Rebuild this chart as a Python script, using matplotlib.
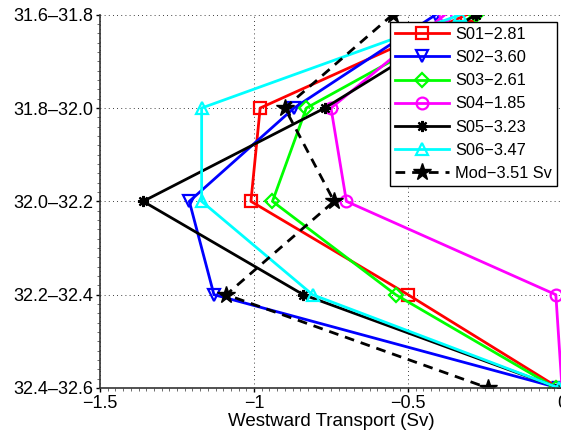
"""
Westward transport per density class: station profiles vs model.
"""
import matplotlib
matplotlib.use("Agg")
import matplotlib.pyplot as plt
from matplotlib.ticker import MultipleLocator

plt.rcParams["font.family"] = ["Liberation Sans", "DejaVu Sans"]
plt.rcParams["font.size"] = 13

# density classes, top to bottom
classes = ["31.6\u201331.8", "31.8\u201332.0", "32.0\u201332.2",
           "32.2\u201332.4", "32.4\u201332.6"]

s01 = [-0.31, -0.98, -1.01, -0.50, -0.01]
s02 = [-0.41, -0.87, -1.21, -1.13, -0.01]
s03 = [-0.28, -0.83, -0.94, -0.54, -0.02]
s04 = [-0.38, -0.75, -0.70, -0.02, 0.00]
s05 = [-0.28, -0.77, -1.36, -0.84, -0.01]
s06 = [-0.33, -1.17, -1.17, -0.81, -0.01]
mod = [-0.55, -0.90, -0.74, -1.09, -0.24]

labels = ["S01\u22122.81", "S02\u22123.60", "S03\u22122.61", "S04\u22121.85",
          "S05\u22123.23", "S06\u22123.47", "Mod\u22123.51 Sv"]

pos = list(range(len(classes)))

fig = plt.figure(figsize=(5.61, 4.41), dpi=100)
ax = fig.add_axes([100 / 561, 1 - 388 / 441, 462 / 561, (388 - 14.7) / 441])

lw = 2.0
ms = 8.5
open_kw = dict(lw=lw, ms=ms, mfc="none", mew=1.6)
ax.plot(s01, pos, color="#ff0000", marker="s", label=labels[0], **open_kw)
ax.plot(s02, pos, color="#0000ff", marker="v", label=labels[1], **open_kw)
ax.plot(s03, pos, color="#00ff00", marker="D", label=labels[2],
        lw=lw, ms=7, mfc="none", mew=1.6)
ax.plot(s04, pos, color="#ff00ff", marker="o", label=labels[3], **open_kw)
ax.plot(s05, pos, color="black", marker=(8, 2, 0), label=labels[4],
        lw=lw, ms=8, mew=1.6)
ax.plot(s06, pos, color="#00ffff", marker="^", label=labels[5], **open_kw)
ax.plot(mod, pos, color="black", ls=(0, (3.5, 2.5)), marker="*", label=labels[6],
        lw=lw, ms=13, mfc="black", mec="black")

ax.set_xlim(-1.5, 0)
ax.set_ylim(len(classes) - 1, 0)
ax.set_yticks(pos)
ax.set_yticklabels(classes)
ax.set_xticks([-1.5, -1, -0.5, 0])
ax.set_xticklabels(["\u22121.5", "\u22121", "\u22120.5", "0"])
ax.xaxis.set_minor_locator(MultipleLocator(0.025))
ax.yaxis.set_minor_locator(MultipleLocator(0.1))
ax.tick_params(which="major", direction="out", length=3, width=1, pad=2)
ax.tick_params(which="minor", direction="out", length=2, width=0.6, color="#555555")

ax.grid(True, which="major", ls=(0, (1, 4)), color="black", lw=0.6)
for side in ("top", "right"):
    ax.spines[side].set_visible(False)
for side in ("left", "bottom"):
    ax.spines[side].set_linewidth(1.2)
    ax.spines[side].set_color("#333333")

ax.set_xlabel("Westward Transport (Sv)", fontsize=13.5, labelpad=1)

leg = ax.legend(loc="upper right", bbox_to_anchor=(557 / 561, 1 - 22 / 441),
                bbox_transform=fig.transFigure, fancybox=False,
                edgecolor="black", framealpha=1, borderpad=0.3,
                handlelength=3.3, handletextpad=0.4, labelspacing=0.5,
                borderaxespad=0, fontsize=11.8)
leg.get_frame().set_linewidth(1.0)

fig.savefig("out.png", dpi=100)
